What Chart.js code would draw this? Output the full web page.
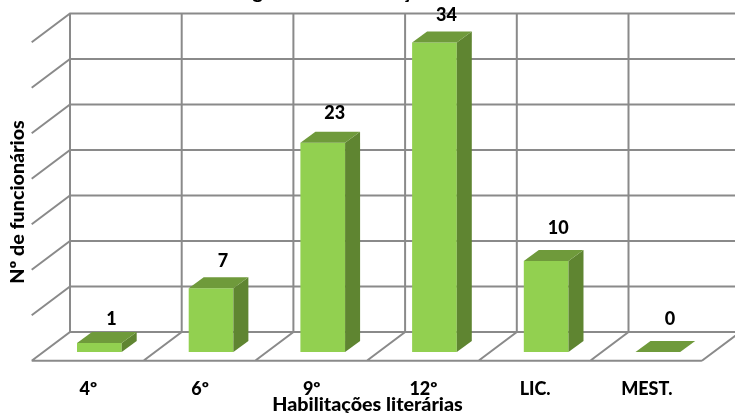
<!DOCTYPE html>
<html>
<head>
<meta charset="utf-8">
<script src="https://cdn.jsdelivr.net/npm/chart.js@4"></script>
<style>
  html, body { margin: 0; padding: 0; background: #fff; }
  canvas { display: block; }
</style>
</head>
<body>
<canvas id="habilitacoes" width="735" height="413"></canvas>
<script>
const categories = ["4º", "6º", "9º", "12º", "LIC.", "MEST."];
const funcionarios = [1, 7, 23, 34, 10, 0];
const labelLift = [24, 27, 30, 27, 33, 33];

const chartTitle = "Funcionários segundo as habilitações";
const xTitle = "Habilitações literárias";
const yTitle = "Nº de funcionários";
const titleFont = "900 19.7px Lato";
const valueFont = "900 18px Lato";

// how far the back wall and front floor edge sit from the plane of the bars
const wall = { dx: 26.5, dy: -20 };
const front = { dx: -11.8, dy: 8.7 };
const depth = { dx: 15, dy: -11 };

function poly(ctx, pts, fill) {
  ctx.beginPath();
  pts.forEach((p, i) => (i ? ctx.lineTo(p[0], p[1]) : ctx.moveTo(p[0], p[1])));
  ctx.closePath();
  ctx.fillStyle = fill;
  ctx.fill();
}

// Back wall, side wall and floor
const cage = {
  id: "cage",
  beforeDatasetsDraw(chart) {
    const { ctx } = chart;
    const x = chart.scales.x;
    const y = chart.scales.y;
    const step = x.width / categories.length;
    const zero = y.getPixelForValue(0);
    ctx.save();
    ctx.strokeStyle = "#8a8a8a";
    ctx.lineWidth = 2;
    ctx.beginPath();
    y.ticks.forEach((t) => {
      const py = y.getPixelForValue(t.value);
      ctx.moveTo(x.left + front.dx, py + front.dy);
      ctx.lineTo(x.left + wall.dx, py + wall.dy);
      ctx.lineTo(x.left + wall.dx + step * categories.length, py + wall.dy);
    });
    for (let i = 0; i <= categories.length; i++) {
      const bx = x.left + step * i;
      ctx.moveTo(bx + wall.dx, y.getPixelForValue(35) + wall.dy);
      ctx.lineTo(bx + wall.dx, zero + wall.dy);
      ctx.lineTo(bx + front.dx, zero + front.dy);
    }
    ctx.moveTo(x.left + front.dx, zero + front.dy);
    ctx.lineTo(x.right + front.dx, zero + front.dy);
    ctx.stroke();
    ctx.restore();
  },
};

// Top and side faces of each bar, then the value above it
const blocks = {
  id: "blocks",
  afterDatasetsDraw(chart) {
    const { ctx } = chart;
    const zero = chart.scales.y.getPixelForValue(0);
    ctx.save();
    chart.getDatasetMeta(0).data.forEach((bar, i) => {
      const l = bar.x - bar.width / 2;
      const r = bar.x + bar.width / 2;
      poly(ctx, [[r, bar.y], [r + depth.dx, bar.y + depth.dy], [r + depth.dx, zero + depth.dy], [r, zero]], "#5f8531");
      poly(ctx, [[l, bar.y], [l + depth.dx, bar.y + depth.dy], [r + depth.dx, bar.y + depth.dy], [r, bar.y]], "#6f9a3b");
      ctx.fillStyle = "#000";
      ctx.font = valueFont;
      ctx.textAlign = "center";
      ctx.textBaseline = "middle";
      ctx.fillText(String(funcionarios[i]), bar.x + 12, bar.y - labelLift[i]);
    });
    ctx.restore();
  },
};

// Chart title runs off the top edge, axis titles sit in the margins
const titles = {
  id: "titles",
  afterDraw(chart) {
    const { ctx } = chart;
    ctx.save();
    ctx.fillStyle = "#000";
    ctx.font = titleFont;
    ctx.textBaseline = "alphabetic";
    ctx.textAlign = "left";
    ctx.fillText(chartTitle, 116, -1);
    ctx.textAlign = "center";
    ctx.textBaseline = "middle";
    ctx.fillText(xTitle, 367.5, 404.5);
    ctx.translate(18, 202);
    ctx.rotate(-Math.PI / 2);
    ctx.fillText(yTitle, 0, 0);
    ctx.restore();
  },
};

new Chart(document.getElementById("habilitacoes"), {
  type: "bar",
  data: {
    labels: categories,
    datasets: [
      {
        data: funcionarios,
        backgroundColor: "#92d050",
        borderWidth: 0,
        barPercentage: 0.4,
        categoryPercentage: 1,
      },
    ],
  },
  options: {
    responsive: false,
    animation: false,
    layout: { padding: { left: 43.5, right: 21.3, top: 33.5, bottom: 1 } },
    plugins: { legend: { display: false }, title: { display: false }, tooltip: { enabled: false } },
    scales: {
      x: {
        afterFit(scale) {
          scale.height = 60;
        },
        grid: { display: false, drawTicks: false },
        border: { display: false },
        ticks: {
          color: "#000",
          font: { family: "Lato", weight: "900", size: 18 },
          padding: 26,
          labelOffset: -11,
          maxRotation: 0,
          autoSkip: false,
        },
      },
      y: {
        display: false,
        min: 0,
        max: 35,
        ticks: { stepSize: 5 },
      },
    },
  },
  plugins: [cage, blocks, titles],
});
</script>
</body>
</html>
